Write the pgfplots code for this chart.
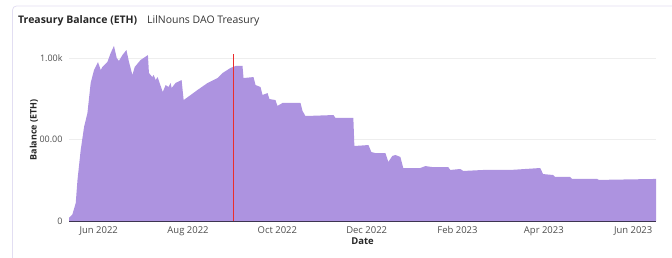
\documentclass[border=0pt]{standalone}
\usepackage{pgfplots}
\pgfplotsset{compat=1.18}
\usepackage{fontspec}
\setmainfont{Open Sans}
\definecolor{areac}{HTML}{AD93E0}
\definecolor{axisc}{HTML}{3D3550}
\definecolor{tickc}{HTML}{4D4D4D}
\definecolor{gridc}{HTML}{EEEEEE}
\definecolor{borderc}{HTML}{E2DEF2}
\definecolor{redl}{RGB}{235,45,45}
\begin{document}
\begin{tikzpicture}
\useasboundingbox (0,0) rectangle (672bp,258bp);
\draw[borderc, line width=0.8bp, rounded corners=4bp] (12.5bp,0bp) -- (12.5bp,252bp) -- (680bp,252bp);
\node[anchor=base west, inner sep=0pt, font=\fontsize{10.5}{12}\selectfont\bfseries, text=black!85] at (18bp,234bp) {Treasury Balance (ETH)};
\node[anchor=base west, inner sep=0pt, font=\fontsize{10.5}{12}\selectfont, text=black!80] at (147bp,234bp) {LilNouns DAO Treasury};
\begin{axis}[
  at={(69bp,37bp)}, anchor=south west,
  scale only axis, width=587bp, height=179.3bp,
  xmin=-20.3, xmax=380.6, ymin=0, ymax=1100,
  axis y line*=left, axis x line*=bottom,
  y axis line style={draw=none},
  x axis line style={axisc, line width=0.9bp, -},
  xtick={0,61,122,183,245,304,365},
  xticklabels={Jun 2022,Aug 2022,Oct 2022,Dec 2022,Feb 2023,Apr 2023,Jun 2023},
  major tick length=0pt,
  xticklabel style={font=\fontsize{9.5}{11}\selectfont, text=tickc, yshift=-2bp},
  ytick={0,500,1000}, yticklabels={0,500.00,1.00k},
  yticklabel style={font=\fontsize{9}{11}\selectfont, text=tickc, xshift=-3bp},
  ymajorgrids, grid style={gridc, line width=0.6bp},
  xlabel={\textbf{Date}}, xlabel style={font=\fontsize{9.5}{11}\selectfont, text=black!85, yshift=5bp},
  /pgf/number format/assume math mode=true,
  clip=false,
]
\addplot[fill=areac, draw=none] table {
x y
-20.3 20
-18.0 40
-15.7 110
-14.5 252
-12.3 436
-10.0 577
-7.7 663
-5.5 847
-3.2 926
-0.5 975
1.4 926
2.5 945
5.9 975
8.2 1031
10.4 1074
12.3 1000
13.8 982
16.2 1018
18.9 1049
20.7 975
23.0 896
24.6 945
28.6 988
33.6 1018
34.3 908
36.6 883
37.5 896
38.9 865
40.2 883
41.6 847
43.7 791
45.7 834
47.7 822
49.1 847
49.8 816
52.5 847
56.6 865
58.0 742
62.8 773
67.5 804
74.4 847
81.2 877
84.6 908
90.0 939
93.5 951
98.2 951
98.9 877
105.7 883
107.1 834
110.5 822
111.9 773
115.3 785
116.6 748
120.7 742
122.1 706
125.5 724
137.8 724
139.2 675
141.2 644
160.3 650
161.7 632
173.9 632
174.6 460
184.2 466
186.2 423
188.9 417
195.8 417
197.8 362
200.5 399
202.6 405
206.0 393
208.0 325
214.9 325
219.6 325
223.1 337
227.8 331
238.7 331
240.1 313
246.9 319
249.0 307
262.6 313
281.0 313
301.5 325
303.5 288
310.4 282
311.7 270
322.0 270
323.3 258
340.4 258
341.7 252
380.6 258
} \closedcycle;
\addplot[redl, line width=1.6bp, no markers] coordinates {(92,0) (92,1025)};
\draw[axisc, line width=0.9bp] (axis cs:-20.3,0) -- (axis cs:380.6,0);
\end{axis}
\node[rotate=90, fill=white, inner sep=0.6bp, font=\fontsize{9}{11}\selectfont\bfseries, text=black!85] at (34bp,128bp) {Balance (ETH)};
\end{tikzpicture}
\end{document}
